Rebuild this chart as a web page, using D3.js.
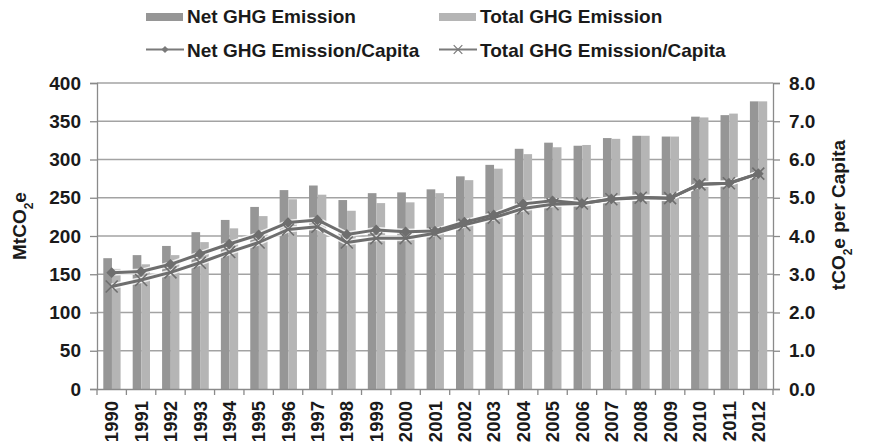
<!DOCTYPE html>
<html>
<head>
<meta charset="utf-8">
<script src="https://cdn.jsdelivr.net/npm/d3@7"></script>
<style>
  body { margin: 0; background: #fff; }
  svg text { font-family: "Liberation Sans", Arial, sans-serif; font-weight: bold; fill: #1a1a1a; }
</style>
</head>
<body>
<div id="chart"></div>
<script>
// data
var years = ["1990","1991","1992","1993","1994","1995","1996","1997","1998","1999","2000","2001",
             "2002","2003","2004","2005","2006","2007","2008","2009","2010","2011","2012"];
var netEmission = [171,175,187,205,221,238,260,266,247,256,257,261,278,293,314,322,318,328,331,330,356,358,376];
var totalEmission = [157,163,175,192,210,226,248,254,233,243,244,256,273,288,307,316,319,327,331,330,355,360,376];
var netPerCapita = [3.04,3.07,3.26,3.53,3.79,4.03,4.35,4.42,4.04,4.16,4.11,4.13,4.36,4.55,4.84,4.92,4.85,4.97,5.01,4.99,5.35,5.38,5.63];
var totalPerCapita = [2.68,2.85,3.05,3.30,3.58,3.83,4.17,4.24,3.83,3.94,3.94,4.07,4.29,4.48,4.72,4.83,4.85,4.96,5.00,4.99,5.35,5.38,5.63];
var leftTicks = [0,50,100,150,200,250,300,350,400];
var rightTicks = [0,1,2,3,4,5,6,7,8];

var svgWidth = 869
var svgHeight = 446

var plot = { left: 97, right: 773, top: 83, bottom: 389 };

var netColor = "#969696"
var totalColor = "#b5b5b5"
var lineColor = "#6e6e6e"
var gridColor = "#a3a3a3"

var svg = d3.select("#chart")
    .append("svg")
    .attr("width", svgWidth)
    .attr("height", svgHeight);

var xScale = d3.scaleBand()
    .domain(years)
    .range([plot.left, plot.right]);

var xInner = d3.scaleBand()
    .domain(["net", "total"])
    .range([6.3, 23.6]);

var yLeft = d3.scaleLinear()
    .domain([0, 400])
    .range([plot.bottom, plot.top]);

var yRight = d3.scaleLinear()
    .domain([0, 8])
    .range([plot.bottom, plot.top]);

// gridlines
svg.append("g")
    .selectAll("line")
    .data(leftTicks.slice(1))
    .join("line")
    .attr("x1", plot.left)
    .attr("x2", plot.right)
    .attr("y1", d => yLeft(d))
    .attr("y2", d => yLeft(d))
    .attr("stroke", gridColor)
    .attr("stroke-width", 1.3);

// bars
var rows = years.map((y, i) => ({ year: y, net: netEmission[i], total: totalEmission[i] }));

var groups = svg.append("g")
    .selectAll("g")
    .data(rows)
    .join("g")
    .attr("transform", d => "translate(" + xScale(d.year) + ",0)");

groups.append("rect")
    .attr("x", xInner("net"))
    .attr("width", xInner.bandwidth())
    .attr("y", d => yLeft(d.net))
    .attr("height", d => plot.bottom - yLeft(d.net))
    .attr("fill", netColor);

groups.append("rect")
    .attr("x", xInner("total"))
    .attr("width", xInner.bandwidth())
    .attr("y", d => yLeft(d.total))
    .attr("height", d => plot.bottom - yLeft(d.total))
    .attr("fill", totalColor);

// axes
var leftAxis = d3.axisLeft(yLeft).tickValues(leftTicks).tickSize(7).tickPadding(9);
var rightAxis = d3.axisRight(yRight).tickValues(rightTicks).tickSize(7).tickPadding(9).tickFormat(d3.format(".1f"));
var bottomAxis = d3.axisBottom(xScale).tickSize(0);

var gl = svg.append("g")
    .attr("transform", "translate(" + plot.left + ",0)")
    .call(leftAxis);

var gr = svg.append("g")
    .attr("transform", "translate(" + plot.right + ",0)")
    .call(rightAxis);

var gb = svg.append("g")
    .attr("transform", "translate(0," + plot.bottom + ")")
    .call(bottomAxis);

[gl, gr, gb].forEach(g => {
    g.select(".domain").attr("stroke", "#8a8a8a").attr("stroke-width", 1.3);
    g.selectAll(".tick line").attr("stroke", "#8a8a8a").attr("stroke-width", 1.3);
    g.selectAll("text").style("font-size", "19px").attr("fill", "#1a1a1a");
});

gb.selectAll("text")
    .style("font-size", "18.5px")
    .attr("transform", "rotate(-90)")
    .attr("x", -12)
    .attr("y", 0)
    .attr("dy", "0.36em")
    .attr("text-anchor", "end");

// x ticks between categories
gb.selectAll(".catTick")
    .data(years.concat(["end"]))
    .join("line")
    .attr("class", "catTick")
    .attr("x1", (d, i) => i < years.length ? xScale(d) : plot.right)
    .attr("x2", (d, i) => i < years.length ? xScale(d) : plot.right)
    .attr("y1", 0)
    .attr("y2", 6)
    .attr("stroke", "#8a8a8a")
    .attr("stroke-width", 1.3);

// per capita lines
var cx = d => xScale(d.year) + xScale.bandwidth() / 2;
var netPts = years.map((y, i) => ({ year: y, v: netPerCapita[i] }));
var totPts = years.map((y, i) => ({ year: y, v: totalPerCapita[i] }));

var line = d3.line()
    .x(cx)
    .y(d => yRight(d.v));

[totPts, netPts].forEach(pts => {
    svg.append("path")
        .datum(pts)
        .attr("d", line)
        .attr("fill", "none")
        .attr("stroke", "#ffffff")
        .attr("stroke-opacity", 0.8)
        .attr("stroke-width", 6);
});

svg.append("path")
    .datum(totPts)
    .attr("d", line)
    .attr("fill", "none")
    .attr("stroke", lineColor)
    .attr("stroke-width", 3)
    .attr("stroke-linejoin", "round");

svg.append("path")
    .datum(netPts)
    .attr("d", line)
    .attr("fill", "none")
    .attr("stroke", lineColor)
    .attr("stroke-width", 3)
    .attr("stroke-linejoin", "round");

var diamond = d3.symbol().type(d3.symbolSquare).size(58);
var cross = d3.symbol().type(d3.symbolX).size(95);

svg.append("g")
    .selectAll("path")
    .data(totPts)
    .join("path")
    .attr("d", cross)
    .attr("transform", d => "translate(" + cx(d) + "," + yRight(d.v) + ")")
    .attr("fill", "none")
    .attr("stroke", lineColor)
    .attr("stroke-width", 1.6);

svg.append("g")
    .selectAll("path")
    .data(netPts)
    .join("path")
    .attr("d", diamond)
    .attr("transform", d => "translate(" + cx(d) + "," + yRight(d.v) + ") rotate(45)")
    .attr("fill", lineColor);

// axis titles
var lt = svg.append("text")
    .attr("transform", "translate(26,226) rotate(-90)")
    .attr("text-anchor", "middle")
    .style("font-size", "19px");
lt.append("tspan").text("MtCO");
lt.append("tspan").attr("baseline-shift", "sub").style("font-size", "12px").text("2");
lt.append("tspan").text("e");

var rt = svg.append("text")
    .attr("transform", "translate(845,215) rotate(-90)")
    .attr("text-anchor", "middle")
    .style("font-size", "19px");
rt.append("tspan").text("tCO");
rt.append("tspan").attr("baseline-shift", "sub").style("font-size", "12px").text("2");
rt.append("tspan").text("e per Capita");

// legend
var legend = svg.append("g");
var legendLabels = ["Net GHG Emission", "Total GHG Emission", "Net GHG Emission/Capita", "Total GHG Emission/Capita"];
var legendX = [146, 439];

legend.append("rect").attr("x", legendX[0]).attr("y", 13).attr("width", 37).attr("height", 8).attr("fill", netColor);
legend.append("rect").attr("x", legendX[1]).attr("y", 13).attr("width", 37).attr("height", 8).attr("fill", totalColor);

legendX.forEach((lx, i) => {
    legend.append("line")
        .attr("x1", lx).attr("x2", lx + 38)
        .attr("y1", 49.5).attr("y2", 49.5)
        .attr("stroke", "#7a7a7a").attr("stroke-width", 2.2);
});
legend.append("path")
    .attr("d", d3.symbol().type(d3.symbolSquare).size(26))
    .attr("transform", "translate(" + (legendX[0] + 19) + ",49.5) rotate(45)")
    .attr("fill", "#7a7a7a");
legend.append("path")
    .attr("d", d3.symbol().type(d3.symbolX).size(50))
    .attr("transform", "translate(" + (legendX[1] + 19) + ",49.5)")
    .attr("fill", "none").attr("stroke", "#7a7a7a").attr("stroke-width", 1.2);

legendLabels.forEach((t, i) => {
    legend.append("text")
        .attr("x", legendX[i % 2] + 41)
        .attr("y", i < 2 ? 23 : 56.5)
        .style("font-size", "19px")
        .text(t);
});
</script>
</body>
</html>
